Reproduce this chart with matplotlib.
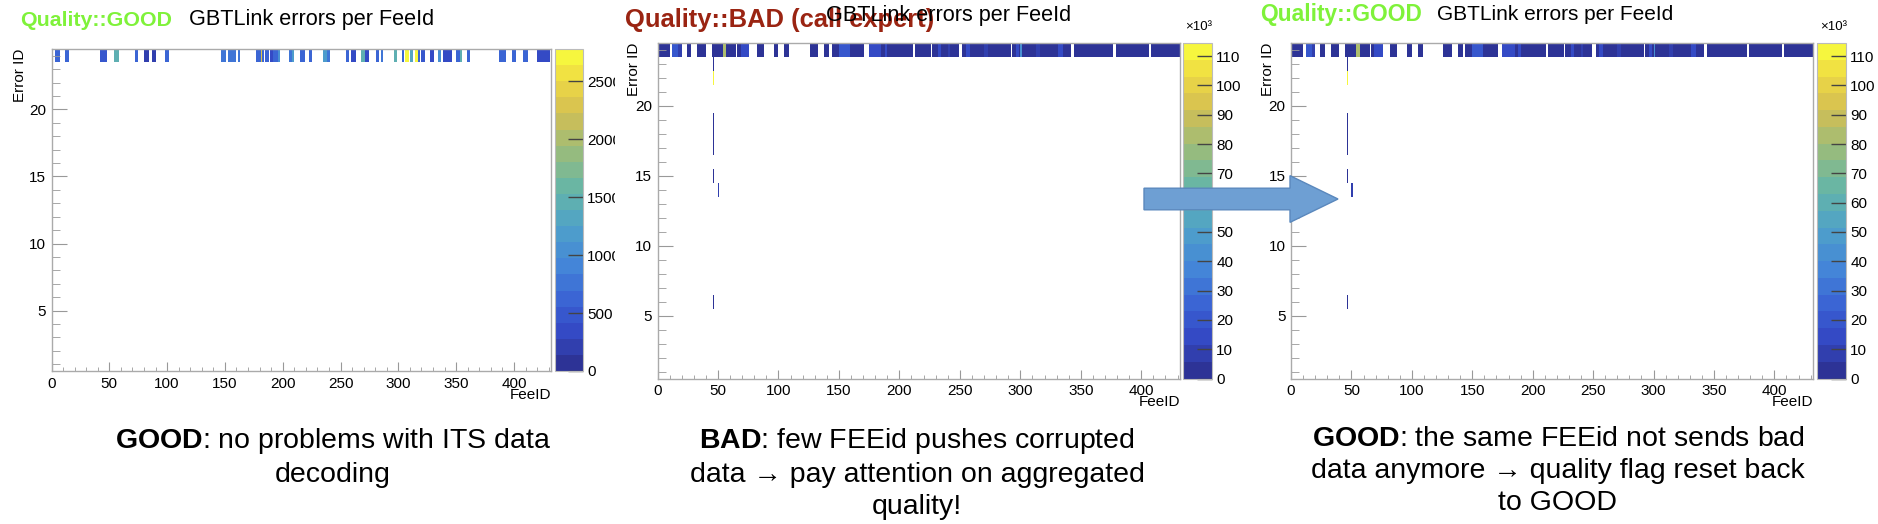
import numpy as np
import matplotlib
matplotlib.use("Agg")
import matplotlib.pyplot as plt
from matplotlib import font_manager
from matplotlib.colors import LinearSegmentedColormap, Normalize
from matplotlib.patches import FancyArrow, Rectangle
from matplotlib.ticker import MultipleLocator, FuncFormatter

plt.rcParams['font.family'] = ['Liberation Sans', 'DejaVu Sans']

# font stretto per le didascalie, se c'e'
names = {f.name for f in font_manager.fontManager.ttflist}
if 'Liberation Sans Narrow' in names:
    cap_font, cap_size, cap_ls = 'Liberation Sans Narrow', 24.5, 1.06
else:
    cap_font, cap_size, cap_ls = 'Liberation Sans', 20.5, 1.29
plt.rcParams['mathtext.fontset'] = 'custom'
plt.rcParams['mathtext.rm'] = cap_font
plt.rcParams['mathtext.bf'] = cap_font + ':bold'

# --- dati ---
n_fee = 432
n_err = 24

# pannello sinistro (GOOD): riga Error ID 24 -> (FeeID primo, FeeID ultimo, conteggi)
good_runs = [
    (3, 6, 600), (12, 14, 600), (42, 47, 520), (54, 57, 1500), (72, 74, 560),
    (80, 83, 260), (87, 89, 260), (98, 101, 560), (147, 150, 800), (153, 159, 720),
    (161, 162, 720), (177, 180, 650), (181, 181, 2250), (182, 183, 600),
    (185, 187, 620), (189, 191, 300), (192, 195, 620), (196, 197, 1000),
    (205, 207, 750), (208, 209, 1150), (215, 218, 650), (223, 224, 650),
    (235, 237, 1250), (238, 240, 720), (255, 256, 620), (259, 262, 300),
    (268, 270, 1450), (271, 274, 350), (281, 282, 620), (285, 286, 720),
    (296, 298, 1400), (303, 304, 650), (306, 308, 2780), (310, 312, 1300),
    (314, 316, 2650), (317, 318, 600), (320, 322, 520), (327, 330, 300),
    (334, 336, 1000), (339, 345, 300), (350, 352, 620), (353, 354, 1450),
    (359, 361, 650), (387, 392, 650), (398, 401, 650), (408, 411, 650),
    (420, 430, 350),
]
good_cells = []

# pannelli centrale e destro: stesso istogramma
bad_runs = [
    (0, 9, 3000), (12, 16, 20000), (17, 19, 6000), (24, 27, 3000), (33, 39, 3000),
    (45, 53, 3000), (54, 56, 85000), (57, 64, 3000), (66, 68, 3000), (69, 75, 16000),
    (82, 87, 3000), (96, 99, 3000), (105, 108, 3000), (126, 132, 3000),
    (138, 141, 3000), (144, 149, 3000), (150, 158, 20000), (159, 170, 3000),
    (175, 184, 14000), (185, 210, 3000), (213, 225, 3000), (227, 248, 3000),
    (252, 291, 3000), (293, 341, 3000), (344, 376, 3000), (379, 405, 3000),
    (408, 431, 3000),
    # strisce piu' chiare
    (188, 189, 12000), (232, 233, 12000), (240, 241, 9000), (255, 257, 15000),
    (270, 272, 9000), (296, 298, 12000), (300, 300, 45000), (313, 315, 9000),
    (331, 334, 12000),
]
# (FeeID, Error ID, conteggi)
bad_cells = [
    (46, 23, 3000), (46, 22, 114500), (46, 19, 3000), (46, 18, 3000),
    (46, 17, 3000), (46, 15, 3000), (50, 14, 6000), (46, 6, 3000),
]

good_max = 2780
bad_max = 114500
good_cticks = [0, 500, 1000, 1500, 2000, 2500]
bad_cticks = [0, 10000, 20000, 30000, 40000, 50000, 60000, 70000, 80000, 90000, 100000, 110000]

captions = [
    "$\\mathbf{GOOD}$: no problems with ITS data\ndecoding",
    "$\\mathbf{BAD}$: few FEEid pushes corrupted\ndata \u2192 pay attention on aggregated\nquality!",
    "$\\mathbf{GOOD}$: the same FEEid not sends bad\ndata anymore \u2192 quality flag reset back\nto GOOD",
]


def build(runs, cells):
    h = np.full((n_err, n_fee), np.nan)
    for a, b, v in runs:
        h[n_err - 1, a:b + 1] = v
    for fee, err, v in cells:
        h[err - 1, fee] = v
    return np.ma.masked_invalid(h)


# palette tipo kBird (ROOT), un po' sbiadita
cmap = LinearSegmentedColormap.from_list("bird", [
    (0.00, '#2d3396'), (0.10, '#3449c4'), (0.20, '#3a62d4'), (0.32, '#4486d8'),
    (0.45, '#4fa2c8'), (0.57, '#66b6a6'), (0.70, '#9cbc7a'), (0.82, '#d4bf52'),
    (0.92, '#eed844'), (1.00, '#f6f63e')], N=20)

W, H = 1878, 524
fig = plt.figure(figsize=(W / 100, H / 100), dpi=100)


def px(l, t, r, b):
    return [l / W, 1 - b / H, (r - l) / W, (b - t) / H]


def panel(frame, cbar, data, vmax, cticks, cfmt, ylpad):
    ax = fig.add_axes(px(*frame))
    mesh = ax.pcolormesh(np.arange(n_fee + 1), np.arange(0.5, n_err + 1), data,
                         cmap=cmap, norm=Normalize(0, vmax), antialiased=False,
                         linewidth=0)
    ax.set_xlim(0, n_fee)
    ax.set_ylim(0.5, n_err + 0.5)
    ax.xaxis.set_major_locator(MultipleLocator(50))
    ax.xaxis.set_minor_locator(MultipleLocator(10))
    ax.yaxis.set_major_locator(MultipleLocator(5))
    ax.yaxis.set_minor_locator(MultipleLocator(1))
    ax.tick_params(which='both', direction='in', color='#999999', labelsize=11,
                   top=False, right=False)
    ax.tick_params(axis='x', which='major', length=6.5, pad=4)
    ax.tick_params(axis='x', which='minor', length=3)
    ax.tick_params(axis='y', which='major', length=10.5, pad=4)
    ax.tick_params(axis='y', which='minor', length=5.5)
    for s in ax.spines.values():
        s.set_color('#aaaaaa')
        s.set_linewidth(1)
    ax.set_xlabel('FeeID', loc='right', fontsize=11, labelpad=-2)
    ax.set_ylabel('Error ID', loc='top', fontsize=11, labelpad=ylpad)

    cax = fig.add_axes(px(*cbar))
    cb = fig.colorbar(mesh, cax=cax)
    cb.set_ticks(cticks)
    cb.ax.yaxis.set_major_formatter(cfmt)
    cb.minorticks_off()
    cb.outline.set_edgecolor('#bbbbbb')
    cb.outline.set_linewidth(0.8)
    cb.ax.tick_params(direction='in', length=11, width=1, color='#444444',
                      labelsize=11, pad=3)
    return ax


good = build(good_runs, good_cells)
bad = build(bad_runs, bad_cells)

panel((51.5, 49, 551, 371), (554.5, 49, 583, 371), good, good_max, good_cticks,
      FuncFormatter(lambda v, p: f"{v:g}"), 1.5)
kfmt = FuncFormatter(lambda v, p: f"{v / 1000:g}")
panel((657.5, 43, 1180, 378.5), (1183, 43, 1212, 378.5), bad, bad_max, bad_cticks, kfmt, -4.5)
panel((1291, 43, 1813, 378.5), (1817, 43, 1846, 378.5), bad, bad_max, bad_cticks, kfmt, -4.5)

# livello sopra tutto: titoli, didascalie, freccia
ov = fig.add_axes([0, 0, 1, 1])
ov.set_xlim(0, W)
ov.set_ylim(H, 0)
ov.axis('off')
ov.set_zorder(5)
ov.patch.set_alpha(0)

# taglio dell'immagine a destra del primo pannello
ov.add_patch(Rectangle((615, 30), 7, 370, fc='white', ec='none'))

green = '#7ff23a'
ov.text(20, 20, 'Quality::GOOD', color=green, fontsize=15.4, fontweight='bold', va='center')
ov.text(189, 20, 'GBTLink errors per FeeId', fontsize=15.6, va='center')
ov.text(625, 20, 'Quality::BAD (call expert)', color='#9a2412', fontsize=18.4,
        fontweight='bold', va='center')
ov.text(826, 16, 'GBTLink errors per FeeId', fontsize=15.6, va='center')
ov.text(1260, 15, 'Quality::GOOD', color=green, fontsize=16.4, fontweight='bold', va='center')
ov.text(1437, 15, 'GBTLink errors per FeeId', fontsize=15, va='center')
ov.text(1199, 27, '\u00d710\u00b3', fontsize=9.5, ha='center', va='center')
ov.text(1834, 27, '\u00d710\u00b3', fontsize=9.5, ha='center', va='center')

for cx, txt in zip([333, 917, 1558], captions):
    ov.text(cx, 426, txt, family=[cap_font, 'DejaVu Sans'], fontsize=cap_size,
            ha='center', va='top', linespacing=cap_ls)

ov.add_patch(FancyArrow(1144, 199, 194, 0, width=21.6, head_width=46.7, head_length=48,
                        length_includes_head=True, fc='#6e9fd3', ec='#5a88bd', lw=1))

fig.savefig('out.png', dpi=100)
